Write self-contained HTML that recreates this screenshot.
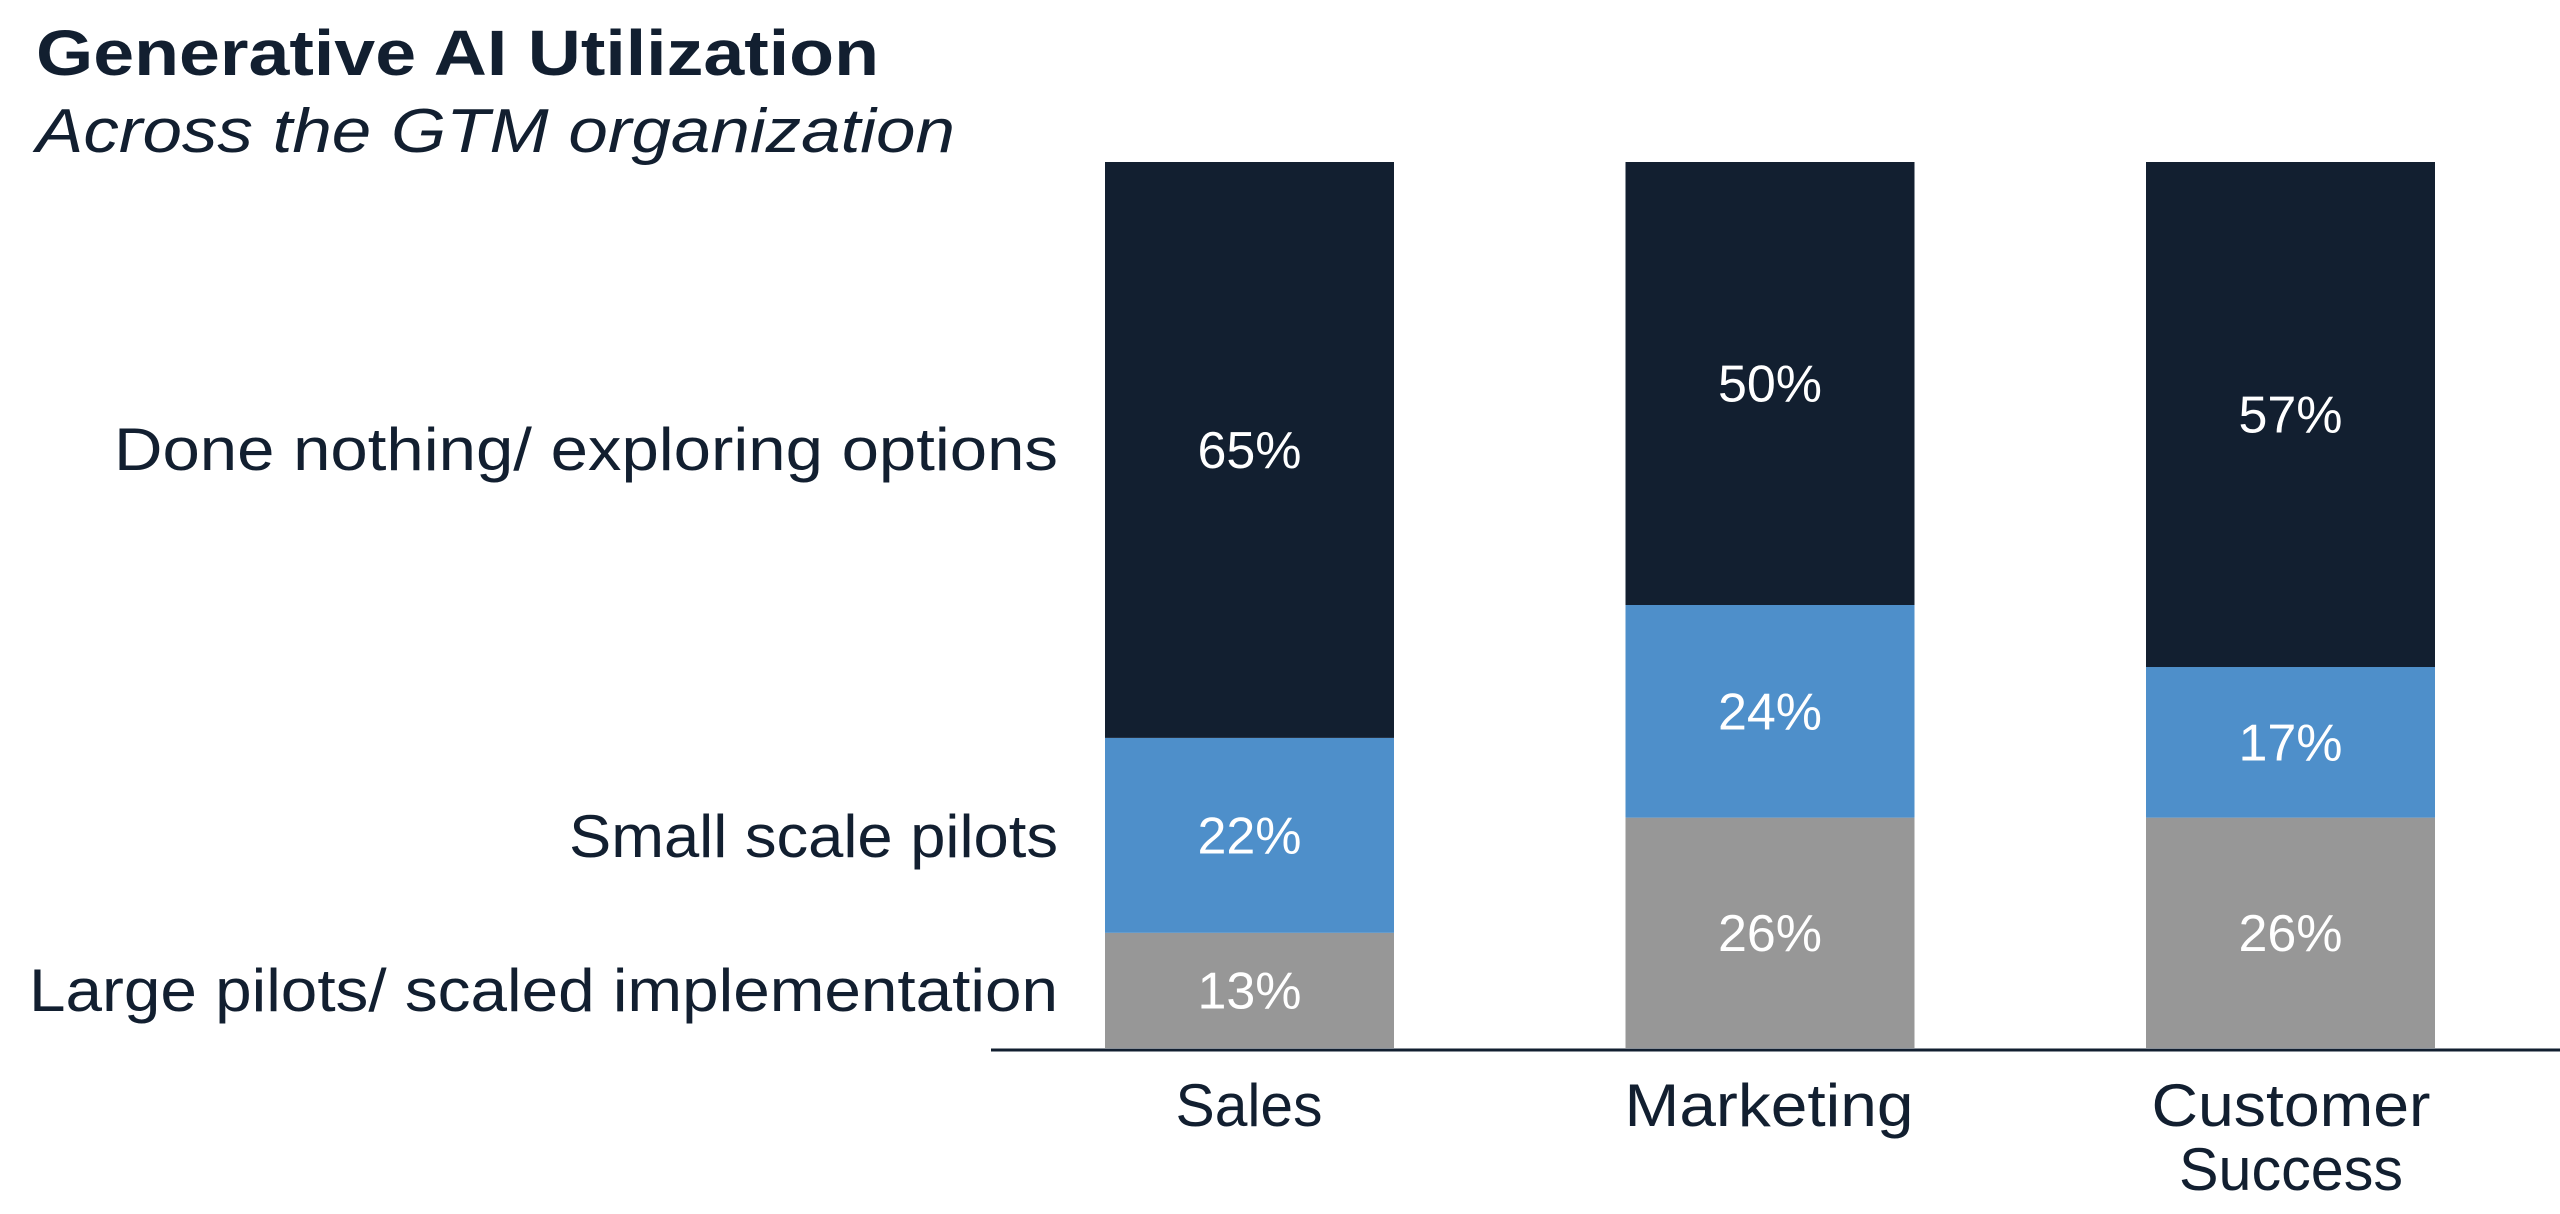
<!DOCTYPE html>
<html><head><meta charset="utf-8"><style>
html,body{margin:0;padding:0;background:#fff;}
svg{display:block;font-family:"Liberation Sans",sans-serif;}
</style></head><body>
<svg width="2560" height="1214" viewBox="0 0 2560 1214">
<text x="36" y="75" font-size="64" font-weight="bold" fill="#121f30" textLength="843" lengthAdjust="spacingAndGlyphs">Generative AI Utilization</text>
<text x="36" y="152" font-size="62" font-style="italic" fill="#121f30" textLength="919" lengthAdjust="spacingAndGlyphs">Across the GTM organization</text>
<g id="bars"></g>
<line x1="991" y1="1050" x2="2560" y2="1050" stroke="#121f30" stroke-width="3"/>
<text x="1058" y="470" font-size="60" fill="#121f30" text-anchor="end" textLength="944" lengthAdjust="spacingAndGlyphs">Done nothing/ exploring options</text>
<text x="1058" y="857" font-size="60" fill="#121f30" text-anchor="end" textLength="489" lengthAdjust="spacingAndGlyphs">Small scale pilots</text>
<text x="1058" y="1011" font-size="60" fill="#121f30" text-anchor="end" textLength="1029" lengthAdjust="spacingAndGlyphs">Large pilots/ scaled implementation</text>
<text x="1249" y="1126" font-size="60" fill="#121f30" text-anchor="middle" textLength="147" lengthAdjust="spacingAndGlyphs">Sales</text>
<text x="1769" y="1126" font-size="60" fill="#121f30" text-anchor="middle" textLength="289" lengthAdjust="spacingAndGlyphs">Marketing</text>
<text x="2291" y="1126" font-size="60" fill="#121f30" text-anchor="middle" textLength="279" lengthAdjust="spacingAndGlyphs">Customer</text>
<text x="2291" y="1190" font-size="60" fill="#121f30" text-anchor="middle" textLength="224" lengthAdjust="spacingAndGlyphs">Success</text>
</svg>
<script>
const categories = ["Sales", "Marketing", "Customer Success"];
const largePilots = [13, 26, 26];
const smallPilots = [22, 24, 17];
const doneNothing = [65, 50, 57];
const seriesNames = ["large-pilots", "small-pilots", "done-nothing"];
const colors = ["#979797", "#4e8fca", "#121f30"];
const series = [largePilots, smallPilots, doneNothing];
const NS = "http://www.w3.org/2000/svg";
const g = document.getElementById("bars");
const x0 = 1105, step = 520.5, bw = 289;
const yBase = 1048, yTop = 162;
function xPos(i){ return x0 + i*step; }
function yPos(v){ return yBase - (v/100)*(yBase - yTop); }
categories.forEach((c, i) => {
  let cum = 0;
  series.forEach((s, k) => {
    const v = s[i];
    const y1 = yPos(cum + v), y2 = yPos(cum);
    const r = document.createElementNS(NS, "rect");
    r.setAttribute("x", xPos(i)); r.setAttribute("y", y1);
    r.setAttribute("width", bw); r.setAttribute("height", y2 - y1);
    r.setAttribute("fill", colors[k]);
    
    
    g.appendChild(r);
    const t = document.createElementNS(NS, "text");
    t.setAttribute("x", xPos(i) + bw/2); t.setAttribute("y", (y1 + y2)/2 + 18);
    t.setAttribute("font-size", "52"); t.setAttribute("fill", "#fff");
    t.setAttribute("text-anchor", "middle");
    t.textContent = v + "%";
    
    
    g.appendChild(t);
    cum += v;
  });
});
</script>
</body></html>
